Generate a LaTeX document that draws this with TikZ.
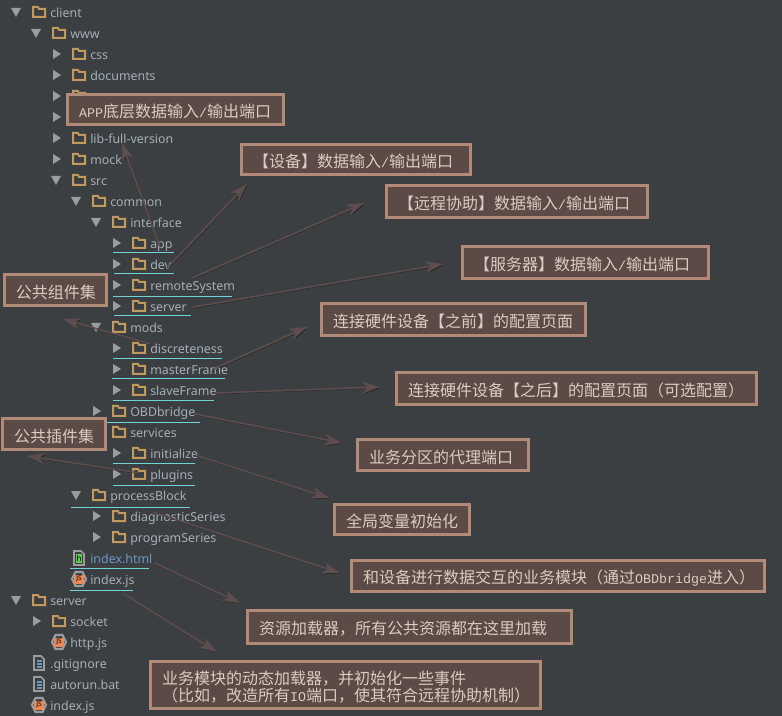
\documentclass[tikz,border=0pt]{standalone}
\usepackage{fontspec}
\setmainfont{Noto Sans}
\newfontfamily\cjk{Noto Sans CJK SC}
\newfontfamily\latmono{Liberation Mono}
\usetikzlibrary{arrows.meta}
\definecolor{ideback}{HTML}{3C3F41}
\definecolor{treetext}{HTML}{A3AEB8}
\definecolor{treeblue}{HTML}{6A97C4}
\definecolor{treegrey}{HTML}{9A9C9E}
\definecolor{foldertan}{HTML}{C29A5E}
\definecolor{markcyan}{HTML}{6FD3D8}
\definecolor{notefill}{HTML}{5C4A47}
\definecolor{noteedge}{HTML}{B28A78}
\definecolor{notetext}{HTML}{D8CCC0}
\definecolor{arrowline}{HTML}{5F4C4C}
\definecolor{jsorange}{HTML}{E8895A}
\definecolor{htmlgreen}{HTML}{62C95A}
\tikzset{
  treelabel/.style={anchor=base west,inner sep=0pt,text=treetext,font=\fontsize{9.3pt}{11pt}\selectfont},
  markline/.style={draw=markcyan,line width=.7pt},
  notebox/.style={draw=noteedge,fill=notefill,line width=2.2pt,text=notetext,align=left,inner xsep=8.6pt,inner ysep=0pt,
    font=\cjk\fontsize{12pt}{12.8pt}\selectfont},
  notearrow/.style={draw=arrowline,line width=1.1pt,-{Stealth[length=13pt,width=8.5pt,inset=3.5pt]},
    preaction={draw=black,opacity=.3,transform canvas={xshift=.8pt,yshift=-.8pt}}},
  pics/none/.style={code={}},
  pics/treeopen/.style={code={\fill[treegrey] (-5,-4) -- (5,-4) -- (0,5) -- cycle;}},
  pics/treeshut/.style={code={\fill[treegrey] (-3,-5) -- (5,0) -- (-3,5) -- cycle;}},
  pics/foldericon/.style={code={\draw[foldertan,line width=1.5pt] (-6,-5) -- (-1,-5) -- (0,-3) -- (6,-3) -- (6,5) -- (-6,5) -- cycle;}},
  pics/texticon/.style={code={
    \draw[treegrey,line width=1.3pt] (-5,-7) -- (2,-7) -- (5,-4) -- (5,7) -- (-5,7) -- cycle;
    \foreach \i in {-2,1,4} \draw[treeblue,line width=1pt] (-2.5,\i) -- (2.5,\i);}},
  pics/htmlicon/.style={code={
    \draw[treegrey,line width=1.3pt] (-5,-7) -- (2,-7) -- (5,-4) -- (5,7) -- (-5,7) -- cycle;
    \fill[htmlgreen] (-3,-4) rectangle (3,5);
    \node[inner sep=0pt,font=\bfseries\fontsize{6pt}{6pt}\selectfont,text=black] at (0,.5) {h};}},
  pics/jsicon/.style={code={
    \draw[treegrey,line width=1.6pt] (-7,0) -- (-3.5,-7) -- (3.5,-7) -- (7,0) -- (3.5,7) -- (-3.5,7) -- cycle;
    \fill[jsorange] (-5,-4.5) rectangle (5,4.5);
    \node[inner sep=0pt,font=\bfseries\fontsize{5pt}{5pt}\selectfont,text=black] at (0,0) {JS};}},
}
% name, level, row, opener, icon, label
\newcommand{\treerow}[6]{
  \pic at ({16+20*#2},{12+21*#3}) {#4};
  \pic at ({39+20*#2},{12+21*#3}) {#5};
  \node[treelabel] (#1) at ({50+20*#2},{17.5+21*#3}) {#6};
}
% name, left, top, right, bottom, text
\newcommand{\notenode}[6]{
  \node[notebox,text width={(#4-#2-26)*.75pt},minimum height={(#5-#3-3)*.75pt}] (#1) at ({(#2+#4)/2},{(#3+#5)/2}) {\rule{0pt}{13pt}#6};
}
\newcommand{\lat}[1]{{\fontsize{10pt}{12pt}\latmono #1}}
\begin{document}
\begin{tikzpicture}[x=.75pt,y=-.75pt]
  \fill[ideback] (0,0) rectangle (782,716);
  \useasboundingbox (0,0) rectangle (782,716);

  % File tree
  \treerow{client}{0}{0}{treeopen}{foldericon}{client}
  \treerow{www}{1}{1}{treeopen}{foldericon}{www}
  \treerow{css}{2}{2}{treeshut}{foldericon}{css}
  \treerow{documents}{2}{3}{treeshut}{foldericon}{documents}
  \treerow{hiddenA}{2}{4}{treeshut}{foldericon}{}
  \treerow{hiddenB}{2}{5}{treeshut}{foldericon}{}
  \treerow{libfull}{2}{6}{treeshut}{foldericon}{lib-full-version}
  \treerow{mock}{2}{7}{treeshut}{foldericon}{mock}
  \treerow{src}{2}{8}{treeopen}{foldericon}{src}
  \treerow{common}{3}{9}{treeopen}{foldericon}{common}
  \treerow{interface}{4}{10}{treeopen}{foldericon}{interface}
  \treerow{app}{5}{11}{treeshut}{foldericon}{app}
  \treerow{dev}{5}{12}{treeshut}{foldericon}{dev}
  \treerow{remote}{5}{13}{treeshut}{foldericon}{remoteSystem}
  \treerow{serverif}{5}{14}{treeshut}{foldericon}{server}
  \treerow{mods}{4}{15}{treeopen}{foldericon}{mods}
  \treerow{discrete}{5}{16}{treeshut}{foldericon}{discreteness}
  \treerow{master}{5}{17}{treeshut}{foldericon}{masterFrame}
  \treerow{slave}{5}{18}{treeshut}{foldericon}{slaveFrame}
  \treerow{obd}{4}{19}{treeshut}{foldericon}{OBDbridge}
  \treerow{services}{4}{20}{treeopen}{foldericon}{services}
  \treerow{initialize}{5}{21}{treeshut}{foldericon}{initialize}
  \treerow{plugins}{5}{22}{treeshut}{foldericon}{plugins}
  \treerow{process}{3}{23}{treeopen}{foldericon}{processBlock}
  \treerow{diag}{4}{24}{treeshut}{foldericon}{diagnosticSeries}
  \treerow{program}{4}{25}{treeshut}{foldericon}{programSeries}
  \treerow{indexhtml}{2}{26}{none}{htmlicon}{\textcolor{treeblue}{index.html}}
  \treerow{indexjs}{2}{27}{none}{jsicon}{index.js}
  \treerow{server}{0}{28}{treeopen}{foldericon}{server}
  \treerow{socket}{1}{29}{treeshut}{foldericon}{socket}
  \treerow{httpjs}{1}{30}{none}{jsicon}{http.js}
  \treerow{gitignore}{0}{31}{none}{texticon}{.gitignore}
  \treerow{autorun}{0}{32}{none}{texticon}{autorun.bat}
  \treerow{rootjs}{0}{33}{none}{jsicon}{index.js}

  % Cyan marks
  \foreach \xa/\xb/\ym in {113/174/252, 114/174/273, 113/232/296, 114/191/315, 113/222/358, 112/225/378,
      113/214/400, 107/200/422, 113/195/463, 113/195/485, 71/190/507, 70/149/568, 70/133/590}
    \draw[markline] (\xa,\ym) -- (\xb,\ym);

  % Arrow ends
  \coordinate (appTail) at (160,247);      \coordinate (appTip) at (122,143);
  \coordinate (devTail) at (167,268);      \coordinate (devTip) at (247,184);
  \coordinate (remoteTail) at (192,278);   \coordinate (remoteTip) at (364,203);
  \coordinate (serverTail) at (193,307);   \coordinate (serverTip) at (443,264);
  \coordinate (masterTail) at (213,369);   \coordinate (masterTip) at (307,327);
  \coordinate (slaveTail) at (215,393);    \coordinate (slaveTip) at (380,387);
  \coordinate (discreteTail) at (150,344); \coordinate (discreteTip) at (63,319);
  \coordinate (pluginsTail) at (140,473);  \coordinate (pluginsTip) at (27,456);
  \coordinate (obdTail) at (195,414);      \coordinate (obdTip) at (342,443);
  \coordinate (initTail) at (195,455);     \coordinate (initTip) at (329,498);
  \coordinate (processTail) at (153,512);  \coordinate (processTip) at (340,573);
  \coordinate (htmlTail) at (155,563);     \coordinate (htmlTip) at (240,603);
  \coordinate (jsTail) at (124,594);       \coordinate (jsTip) at (217,652);

  \foreach \from/\to in {appTail/appTip, devTail/devTip, remoteTail/remoteTip, serverTail/serverTip,
      masterTail/masterTip, slaveTail/slaveTip, discreteTail/discreteTip, pluginsTail/pluginsTip,
      obdTail/obdTip, initTail/initTip, processTail/processTip, htmlTail/htmlTip, jsTail/jsTip}
    \draw[notearrow] (\from) -- (\to);

  % Notes
  \notenode{appNote}{66}{93}{285}{126}{\lat{APP}底层数据输入\lat{/}输出端口}
  \notenode{devNote}{240}{143}{472}{176}{【设备】数据输入\lat{/}输出端口}
  \notenode{remoteNote}{385}{184}{649}{219}{【远程协助】数据输入\lat{/}输出端口}
  \notenode{serverNote}{461}{245}{710}{280}{【服务器】数据输入\lat{/}输出端口}
  \notenode{beforeNote}{320}{302}{587}{337}{连接硬件设备【之前】的配置页面}
  \notenode{afterNote}{395}{371}{758}{406}{连接硬件设备【之后】的配置页面（可选配置）}
  \notenode{widgetNote}{3}{273}{108}{307}{公共组件集}
  \notenode{pluginNote}{1}{417}{107}{451}{公共插件集}
  \notenode{proxyNote}{356}{438}{530}{472}{业务分区的代理端口}
  \notenode{globalNote}{333}{503}{471}{536}{全局变量初始化}
  \notenode{deviceNote}{350}{559}{766}{593}{和设备进行数据交互的业务模块（通过\lat{OBDbridge}进入）}
  \notenode{loaderNote}{246}{609}{573}{645}{资源加载器，所有公共资源都在这里加载}
  \notenode{moduleNote}{149}{660}{542}{710}{业务模块的动态加载器，并初始化一些事件\\（比如，改造所有\lat{IO}端口，使其符合远程协助机制）}
\end{tikzpicture}
\end{document}
